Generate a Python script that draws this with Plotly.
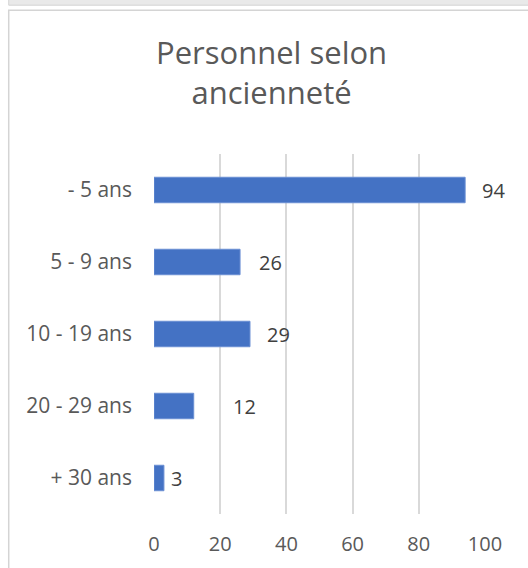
import plotly.graph_objects as go

categories = ["- 5 ans", "5 - 9 ans", "10 - 19 ans", "20 - 29 ans", "+ 30 ans"]
values = [94, 26, 29, 12, 3]
label_gaps = [17, 19, 17, 39, 7]  # px gap between bar end and its data label
x_ticks = [0, 20, 40, 60, 80, 100]
title_text = "Personnel selon<br>ancienneté"

W, H = 528, 568
L, R_PX = 154, 485.5
T_PX, B_PX = 153.5, 514

def px_x(px):
    return (px - L) / (R_PX - L)

def px_y(py):
    return (B_PX - py) / (B_PX - T_PX)

FONT = "Open Sans"

fig = go.Figure()
fig.add_trace(go.Bar(
    x=values, y=categories, orientation="h",
    marker=dict(color="#4472c4", line=dict(color="#6a8fd3", width=1)),
    hoverinfo="x+y",
))

for v, c, g in zip(values, categories, label_gaps):
    fig.add_annotation(
        x=v, y=c, xref="x", yref="y", text=str(v), showarrow=False,
        xanchor="left", yanchor="middle", xshift=g - 2,
        font=dict(family=FONT, size=20, color="#404040"),
    )

fig.add_annotation(
    x=px_x(272), y=px_y(28), xref="paper", yref="paper",
    text=title_text, showarrow=False, xanchor="center", yanchor="top",
    align="center", font=dict(family=FONT, size=31, color="#595959"),
)

fig.update_layout(
    width=W, height=H,
    margin=dict(l=L, r=W - R_PX, t=T_PX, b=H - B_PX, pad=0, autoexpand=False),
    paper_bgcolor="white", plot_bgcolor="white",
    bargap=0.646,
    showlegend=False,
    xaxis=dict(
        range=[0, 100], tickvals=x_ticks, ticktext=[str(t) for t in x_ticks],
        showgrid=True, gridcolor="#d9d9d9", gridwidth=2,
        zeroline=False, showline=False, ticks="",
        ticklabelstandoff=16, automargin=False,
        tickfont=dict(family=FONT, size=20, color="#595959"),
        fixedrange=True,
    ),
    yaxis=dict(
        categoryorder="array", categoryarray=categories,
        autorange="reversed",
        showgrid=False, zeroline=False, showline=False, ticks="",
        ticklabelstandoff=21, automargin=False,
        tickfont=dict(family=FONT, size=21, color="#595959"),
        fixedrange=True,
    ),
    shapes=[
        dict(type="rect", xref="paper", yref="paper",
             x0=px_x(8.5), x1=px_x(700), y0=px_y(4.5), y1=px_y(-20),
             fillcolor="#e9e9e9", line=dict(color="#d4d4d4", width=1), layer="above"),
        dict(type="rect", xref="paper", yref="paper",
             x0=px_x(8.5), x1=px_x(536), y0=px_y(800), y1=px_y(9.5),
             fillcolor="rgba(0,0,0,0)", line=dict(color="#d4d4d4", width=1.5), layer="above"),
    ],
)

fig.write_html(
    "out.html",
    config={"displayModeBar": False},
    post_script="document.body.style.margin='0px';document.body.style.overflow='hidden';",
)
